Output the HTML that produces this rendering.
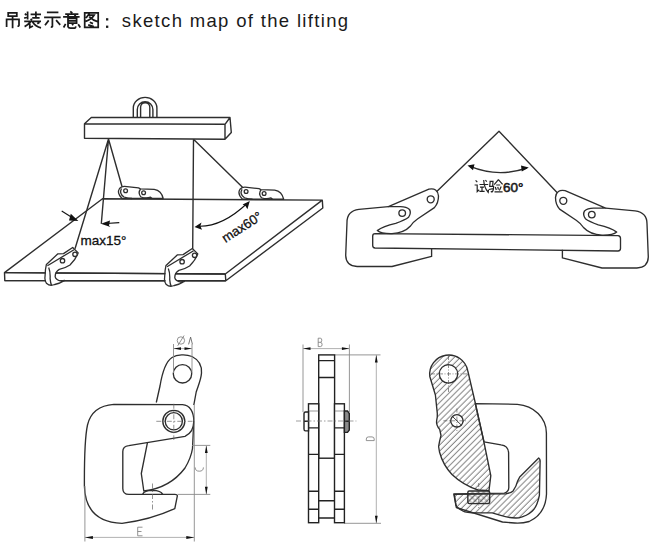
<!DOCTYPE html>
<html><head><meta charset="utf-8">
<style>
html,body{margin:0;padding:0;background:#fff;}
body{width:652px;height:548px;overflow:hidden;position:relative;}
svg{position:absolute;left:0;top:0;}
.t{font-family:"Liberation Sans",sans-serif;}
</style></head><body>
<svg width="652" height="548" viewBox="0 0 652 548">
<defs>
<pattern id="hatch" width="4.3" height="4.3" patternUnits="userSpaceOnUse" patternTransform="rotate(-45)">
<line x1="0" y1="2" x2="4.3" y2="2" stroke="#2a2a2a" stroke-width="0.6"/>
</pattern>
<pattern id="xhatch" width="4" height="4" patternUnits="userSpaceOnUse" patternTransform="rotate(45)">
<line x1="0" y1="2" x2="4" y2="2" stroke="#444" stroke-width="0.5"/>
<line x1="2" y1="0" x2="2" y2="4" stroke="#444" stroke-width="0.5"/>
</pattern>
</defs>

<!-- TITLE -->
<g id="title" fill="none" stroke="#1a1a1a" stroke-width="1.75" stroke-linecap="butt" stroke-linejoin="miter">
<path d="M8.2,12.9 H16.8 V16 H8.2 Z M6.6,27 V19.3 H19 V25.3 Q19,26.2 17.5,26.1 M12.6,16 V28.3"/>
<path d="M27.6,11.6 V19.5 M24.9,13.6 L26.4,15.2 M24.2,18.3 L28,16.6 M30.6,14.4 H41 M35.9,11.4 V17.8 M32.2,17.8 H39.6 M30.6,18.8 L32,20.2 M24.2,21.3 H41 M30.6,21.6 Q28,25 24.6,26.6 M29.8,23.5 V27.6 L33,26 M32.6,22 Q35.5,26.5 41,27.8 M37.3,23.8 L39.5,22.3"/>
<path d="M46.9,12.4 H58.4 M44.1,17.4 H60.7 M52.4,17.4 V26.6 Q52.2,27.3 50.8,26.8 M48.7,20.4 L45,25.3 M56.1,20.2 L60.2,24.8"/>
<path transform="translate(0,0.5)" d="M70.2,11 L72.4,12.5 M65.2,13.5 H78.4 M67.6,14.2 L68.6,15.8 M75.6,14.2 L74.6,15.8 M63.1,16.3 H79.6 M68,17.9 H76.6 V22.6 H68 Z M68,20.3 H76.6 M65.6,23.3 L63.6,27 M68,23.3 V26.2 Q68.5,27.6 70.5,27.6 H74.8 Q75.6,27.4 75.8,25.8 M72.1,23.3 L73.2,24.8 M78.2,23.8 L80.3,27"/>
<path d="M84.7,12.8 H98.2 V27.4 H84.7 Z M89.4,13.5 L86,18 M88.4,15 H94.2 Q91.5,19.5 85.6,21.3 M89.2,16.6 Q93,20.4 97.6,21.6 M89.8,22.2 L93,23.6 M88.2,24.8 L93.8,26.6"/>
</g>
<g fill="#1a1a1a"><rect x="106" y="18.2" width="2.3" height="2.3"/><rect x="106" y="25.6" width="2.3" height="2.3"/></g>
<text class="t" x="121.8" y="26.9" font-size="18.5" fill="#1a1a1a" letter-spacing="1.33">sketch map of the lifting</text>

<!-- ================= TOP-LEFT DRAWING ================= -->
<g fill="none" stroke="#2e2e2e" stroke-width="1.4" stroke-linejoin="round">
<!-- plate -->
<path d="M102.5,198.8 L322.3,200.1 L225.3,274 L4.5,272.6 Z" fill="#fff"/>
<path d="M4.5,272.6 L4.8,280.6 L225.8,280.8 L322.8,208 L322.3,200.1 M225.3,274 L225.8,280.8" />
<!-- ropes -->
<path d="M108.5,139 L75,248.8 M108.5,139 L101.3,223.8 M108.5,139 L122,186.5 M193.5,139.3 L192.7,248.7 M193.5,139.3 L242.5,187.3"/>
<!-- beam -->
<path d="M84.5,123.8 L225,124.3 L225,139.3 L84.5,138.3 Z M84.5,123.8 L91.3,117.5 L230,117.5 L225,124.3 M230,117.5 L231.3,132.5 L225,139.3" fill="#fff"/>
<!-- shackle -->
<path d="M133.3,117.4 V108 A11.8,10.6 0 0 1 156.9,108 V117.4 M137.3,117.4 V109.6 A7.8,7.8 0 0 1 152.9,109.6 V117.4 M140.6,117.4 V107.3 A4.6,4.6 0 0 1 149.8,107.3 V117.4" fill="none"/>
</g>
<!-- max15 arrows -->
<g stroke="#111" stroke-width="1.1" fill="#111">
<line x1="119.3" y1="222.6" x2="106" y2="223.5"/>
<path d="M100.9,223.8 L110,220.6 L109,225.6 L110.4,227 Z" stroke="none"/>
<line x1="61.7" y1="211" x2="72" y2="217.5"/>
<path d="M78.4,221 L69,220.6 L70.8,213.7 Z" stroke="none"/>
<path d="M198,226.2 Q221.75,227.25 247,203.5" fill="none"/>
<path d="M194.5,226.9 L201.5,222.6 L200.4,226 L202,229.8 Z" stroke="none"/>
<path d="M249.8,201.1 L247.4,209.2 L245.5,206 L242.6,204.6 Z" stroke="none"/>
</g>
<text class="t" x="80.6" y="244.8" font-size="13.5" fill="#111" stroke="#111" stroke-width="0.3">max15°</text>
<text class="t" font-size="13.2" fill="#111" stroke="#111" stroke-width="0.3" transform="translate(225.6,243) rotate(-33)">max60°</text>

<!-- back clamps -->
<g id="bclamp" fill="#fff" stroke="#2e2e2e" stroke-width="1.3" stroke-linejoin="round">
<path d="M122,198.5 Q116.5,193 119.5,188.5 Q121.5,186.3 124.5,186.4 L138.5,187.9 L140.4,188.8 L154.2,189.3 Q161.5,190.5 163.2,198.5 Z"/>
<path d="M121.5,188.5 Q118.8,193.5 124,197 Q128,198.5 132,198.5" fill="none"/>
<path d="M140.6,189 Q137.5,193 141,197 Q146,198.8 150.5,197.2 L152,198.6" fill="none"/>
<circle cx="125.6" cy="190.8" r="1.9"/>
<circle cx="143.6" cy="192.7" r="1.9"/>
</g>
<use href="#bclamp" transform="translate(120.5,0.75)"/>

<!-- front clamps -->
<g id="fclamp" fill="#fff" stroke="#2e2e2e" stroke-width="1.3" stroke-linejoin="round">
<path d="M46.4,264.4 L57.9,253.8 L63.5,253.6 L72.7,247.5 L78.2,252.9 Q76,259 70,265 Q64.5,268.5 59.3,269.4 Q55,272 55.2,276.8 Q56,280 61.2,281 L64.8,280.5 Q60,283.5 54.7,284.5 Q50,286.5 46.4,283.2 Q44.5,280 45,276.8 L45.5,269.4 Z"/>
<path d="M47.4,265.8 L74,249.7 M48.7,267.6 Q50.5,272 50.1,278.6 Q50.5,283 51.5,285.2" fill="none"/>
<circle cx="62.5" cy="260.7" r="2.2"/>
<circle cx="75" cy="254.3" r="2.2"/>
</g>
<use href="#fclamp" transform="translate(119.6,1)"/>
<!-- plate front face lines passing through clamps -->
<g stroke="#2e2e2e" stroke-width="1.4">
<line x1="4.5" y1="272.6" x2="46" y2="272.9"/>
<line x1="4.8" y1="280.6" x2="46" y2="280.6"/>
<line x1="55.5" y1="273" x2="165.5" y2="273.6"/>
<line x1="63" y1="280.7" x2="165.5" y2="280.7"/>
<line x1="175" y1="273.7" x2="225.3" y2="274"/>
<line x1="183" y1="280.8" x2="225.8" y2="280.8"/>
</g>

<!-- ================= TOP-RIGHT DRAWING ================= -->
<g fill="none" stroke="#2e2e2e" stroke-width="1.35" stroke-linejoin="round">
<path d="M434.4,193.8 L499,131.2 L558.2,193.7"/>
<path d="M469.5,166.2 Q498,178 527,168"/>
</g>
<path d="M467.5,165.5 L474.5,164.3 L473,170.2 Z M528.8,167.5 L521.8,171.6 L521,165.6 Z" fill="#111"/>

<!-- plate -->
<path d="M375,233.6 L618,235.6 Q620.5,235.8 620.5,238.5 L620.5,248.6 Q620.5,251 618,251 L375,248 Q372.7,247.8 372.7,245.5 L372.7,236 Q372.7,233.6 375,233.6 Z" fill="#fff" stroke="#2e2e2e" stroke-width="1.35"/>

<g id="rclampL" fill="#fff" stroke="#2e2e2e" stroke-width="1.35" stroke-linejoin="round">
<path d="M388.4,206.7 L358.9,209.4 Q347,211 347,222.3 L345.7,255.5 Q346,266 357.1,266.5 L392,266.5 L431.6,256.4 L431.6,248.3" fill="none"/>
<path d="M388.4,206.7 L428.9,189.2 Q437.5,187.5 438.5,196 Q438.5,203 434.4,207.6 L417.8,218.7 Q413,222 410.5,226 Q404,233 392,233.6 Q381,233.8 377.3,230.6 Q383,226 395.7,223.3 Q405,220 408.6,217.2 Q411.5,213 409.5,209.4 Q406.5,206.5 400,206.6 Z"/>
<circle cx="402.2" cy="213.1" r="3.3"/>
<circle cx="430.7" cy="199.3" r="3.5"/>
</g>
<use href="#rclampL" transform="translate(994,1.5) scale(-1,1)"/>

<!-- ================= BOTTOM-LEFT DRAWING ================= -->
<g fill="none" stroke="#2e2e2e" stroke-width="1.35" stroke-linejoin="round">
<!-- lever eye -->
<path d="M156.3,402.5 L160,386 C162,374 165,362 172,357.5 C177,354.5 186,354 192,356.5 C199,360 202,366 201.5,373 C201,380 198,386 196.2,392 L193.8,405"/>
<circle cx="182.5" cy="373.8" r="9.2"/>
<!-- body -->
<path d="M182.5,404.6 L113.8,404.4 Q92,406 87.5,425 Q84.2,440 84.4,486 C85,512 100,522.5 122,523.4 Q150,520 174.8,508.7 L177.4,495.6 Q177,494.4 175,494.4 L129,494.4 Q122.8,494.4 122.8,488.5 L122.8,451.5 Q122.8,446.3 128.8,445.6 L185,436.3 C190,434 193.8,429 193.8,421 C193.8,412 190,405 182.5,404.6 Z" fill="#fff"/>
<!-- cam -->
<path d="M147.5,442.3 L141.3,473.5 L143.8,491 Q170,488 185,468 Q191,458 192.5,448.5 L193.8,421"/>
<circle cx="173.8" cy="421.3" r="11"/>
<circle cx="173.8" cy="421.3" r="8.6"/>
<path d="M142.5,494.4 Q144,490.6 152.5,490.4 Q161,490.6 162.7,494.4 Z" fill="#fff"/>
</g>
<g stroke="#666" stroke-width="0.7" fill="none">
<path d="M156.3,421.3 H192.5 M173.8,403.8 V440" stroke-dasharray="5,2,1.5,2"/>
<path d="M152.5,483.5 V511" stroke-dasharray="5,2,1.5,2"/>
</g>
<g stroke="#8a8a8a" stroke-width="0.9" fill="none">
<path d="M173.5,344 V373 M192,344 V373"/>
<path d="M192,445.4 H210.3 M177.5,494.4 H210.3"/>
<path d="M84.9,486 V541.5 M194.3,405 V541.5"/>
<path d="M334.7,354.9 H380.5 M344,523.3 H381"/>
<path d="M303,344.5 V412 M349.4,344.5 V412"/>
</g>
<g stroke="#a8a8a8" stroke-width="0.9" fill="none">
<path d="M173.5,348.6 H192"/>
<path d="M206.3,445.4 V494.4"/>
<path d="M84.9,537.4 H194.3"/>
<path d="M376.3,354.9 V523.3"/>
<path d="M303,348.6 H349.4"/>
</g>
<g fill="#111">
<path d="M173.5,348.6 L181,347.2 L181,350 Z M192,348.6 L184.5,347.2 L184.5,350 Z"/>
<path d="M206.3,445.4 L204.9,453 H207.7 Z M206.3,494.4 L204.9,486.8 H207.7 Z"/>
<path d="M84.9,537.4 L92.9,535.9 V538.9 Z M194.3,537.4 L186.3,535.9 V538.9 Z"/>
<path d="M376.3,354.9 L374.9,362.5 H377.7 Z M376.3,523.3 L374.9,515.7 H377.7 Z"/>
<path d="M303,348.6 L310.5,347.2 V350 Z M349.4,348.6 L341.9,347.2 V350 Z"/>
</g>
<g fill="none" stroke="#777" stroke-width="0.8">
<circle cx="180.9" cy="340.5" r="3.7"/>
<path d="M184.1,335.5 L177.7,345.8"/>
<path d="M188.6,344.4 L190.6,337.1 L192.4,344.2" stroke="#555"/>
<path d="M318.2,338.2 V346.6 H320.6 Q322.1,346.6 322.1,344.5 Q322.1,342.3 320.3,342.3 H318.2 M318.2,338.2 H320.3 Q321.8,338.2 321.8,340.2 Q321.8,342.3 320.3,342.3"/>
<path d="M142.5,527.2 H137.7 V535.8 H142.5 M137.7,531.5 H141.5"/>
<path d="M195.2,467.4 Q195.2,471.2 199.3,471.2 Q203.4,471.2 203.4,467.4"/>
<path d="M366.3,440.6 H374.2 V439 Q374.2,436.9 372,436.9 H368.5 Q366.3,436.9 366.3,439 Z"/>
</g>

<!-- ================= BOTTOM-MIDDLE DRAWING ================= -->
<g fill="#fff" stroke="#222" stroke-width="1.4" >
<rect x="318.7" y="354.9" width="15.9" height="103.3"/>
<path d="M318.7,360.6 H334.6 M318.7,377.5 H334.6" fill="none"/>
<rect x="308.5" y="403.8" width="10.2" height="118.9"/>
<rect x="334.5" y="403.8" width="9.9" height="118.9"/>
<path d="M308.5,427.9 H318.7 M308.5,454.4 H318.7 M308.5,491.2 H318.7 M308.5,509.2 H318.7 M334.5,427.9 H344.4 M334.5,454.4 H344.4 M334.5,491.2 H344.4 M334.5,509.2 H344.4 M318.7,500.7 H334.6 M318.7,518 H334.6" fill="none"/>
<path d="M308.5,411 H318.7 M334.5,411 H344.4" fill="none" stroke-width="0.6" stroke="#555"/>
<path d="M308.5,412 L305.5,412 Q304,412 304,414 L304,429 Q304,430.9 305.5,430.9 L308.5,430.9 Z M304,421.3 H308.5"/>
<path d="M344.4,411 L347.5,411 L349.3,413.5 L349.3,430 L347.5,432.4 L344.4,432.4 Z M344.4,421.3 H349.3" fill="#8a8a8a"/>
</g>
<path d="M296,421 H356.4" stroke="#777" stroke-width="0.7" stroke-dasharray="5,2,1.5,2"/>

<!-- ================= BOTTOM-RIGHT DRAWING ================= -->
<g stroke="#2e2e2e" stroke-width="1.35" stroke-linejoin="round">
<!-- body outer -->
<path d="M475.3,403.6 L517.4,404.3 C534,405.5 546.4,418 546.4,433 L546.5,494 Q545.5,514 529.2,521.5 Q522,523.5 514.6,523 L502.5,522 L456.3,507.5 L453.8,493.8 L504.4,493.2 Q508.8,491.5 508.8,487.5 L508.6,452.5 Q508,445.5 501,444.8 L484,441.8 Z" fill="#fff"/>
<!-- hatched hook -->
<path d="M454.3,494.3 L505.8,493.8 Q511,493 513.1,490.9 Q516.5,486 517.5,481.4 L519.7,477 L538.7,458 Q540.5,459.5 540.1,461.7 L539.4,495.3 Q537,507 532.1,511.3 Q527,516 519,517.9 Q510,518.5 500.7,515.4 L492.2,512.9 L472,512.9 Q463,512 461.9,510.4 Q457,508 456,505.3 Z" fill="url(#hatch)"/>
<!-- lever -->
<path d="M429.8,376.5 A19.2,19.2 0 0 1 467.7,370.5 L475.3,403 L483.5,440 L490.8,475.6 L489,490.6 L478,490 Q463,485 452,474.5 Q443,465 439.5,452 L438.6,446.5 Q439.5,441 441,435.5 L439.7,429.4 Q436,425 436.6,420.8 Q437.6,417 437.3,413.4 L435.4,395 Z" fill="url(#hatch)"/>
<circle cx="448.5" cy="373.9" r="9.2" fill="#fff"/>
<circle cx="456.9" cy="420.8" r="6.2" fill="#fff"/>
<path d="M452.8,416.8 L461,424.8" fill="none" stroke-width="0.9"/>
<rect x="467.8" y="491" width="21.9" height="12.6" rx="1.5" fill="url(#xhatch)"/>
</g>
<path d="M431,373.9 H467 M448.5,356 V392 M443.4,420.8 H466.7 M456.9,408.5 V431.8 M478.7,483 V508" stroke="#444" stroke-width="0.6" stroke-dasharray="4,1.5,1,1.5"/>

<!-- TOP-RIGHT TEXT -->
<text class="t" x="503" y="192.2" font-size="13.5" fill="#1a1a1a" stroke="#1a1a1a" stroke-width="0.55">60°</text>
<g id="shiyan" fill="none" stroke="#222" stroke-width="1.2">
<path d="M475.6,180.3 L477.3,182.2 M474.6,185 H477.2 V191.6 L479.2,189.8 M479.5,184.5 H488.2 M485.4,180.2 L486.8,181.6 M480,187.2 H484 M482,187.2 V191 M479.4,191.3 H484.6 M483.7,180 Q484,187.5 488.2,192.3 L488.5,189.6"/>
<path d="M489.5,181.4 H493 L492.7,185.8 M490.2,181.4 L489.7,186.3 H493.6 Q493.6,191 492,192 L490.8,191.4 M489,189.5 L493.2,188.6 M498.4,179.7 L494.2,184.6 M498.4,179.7 L502.6,184.4 M496.2,185 H500.2 M495.3,187 L496.3,190 M497.8,186.8 L498.4,189.6 M501.2,186.6 L499.4,190.6 M494.5,191.8 H502.6"/>
</g>
</svg>
</body></html>
